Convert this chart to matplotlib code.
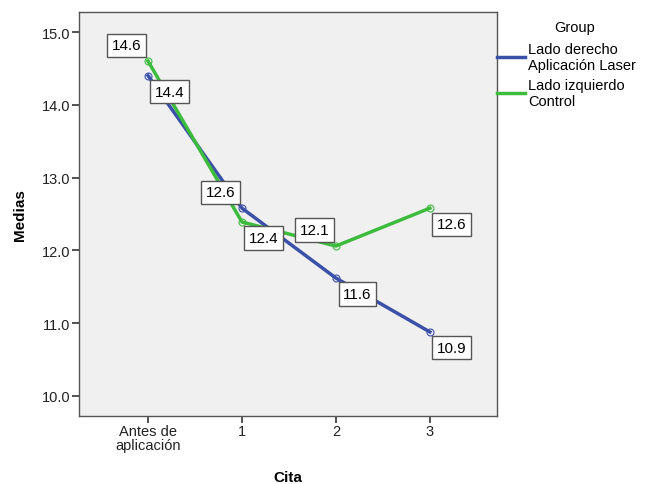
import matplotlib
matplotlib.use("Agg")
import matplotlib.pyplot as plt
from matplotlib.lines import Line2D

plt.rcParams['font.family'] = ['Liberation Sans', 'DejaVu Sans']

# data
categories = ["Antes de\naplicación", "1", "2", "3"]
laser = [14.40, 12.58, 11.62, 10.88]
control = [14.60, 12.39, 12.06, 12.58]
laser_labels = ["14.4", "12.6", "11.6", "10.9"]
control_labels = ["14.6", "12.4", "12.1", "12.6"]
# label placement: -1 = up-left of point, +1 = down-right
laser_side = [1, -1, 1, 1]
control_side = [-1, 1, -1, 1]
group_names = ["Lado derecho\nAplicación Laser", "Lado izquierdo\nControl"]

blue = "#3b50a8"
green = "#3dbb3d"
W, H = 654, 485

fig = plt.figure(figsize=(W / 100, H / 100), dpi=100)
ax = fig.add_axes([79 / W, 1 - 417 / H, (497 - 79) / W, (417 - 13) / H])
ax.set_facecolor("#f0f0f0")

x = list(range(len(categories)))
ax.plot(x, laser, color=blue, lw=2.5, marker="o", ms=5, mfc="none", mew=0.8, zorder=3)
ax.plot(x, control, color=green, lw=2.5, marker="o", ms=5, mfc="none", mew=0.8, zorder=3)

box = dict(boxstyle="square,pad=0.3", fc="white", ec="#555555", lw=1)
for vals, labs, sides in [(laser, laser_labels, laser_side),
                          (control, control_labels, control_side)]:
    for xi, v, t, s in zip(x, vals, labs, sides):
        ax.annotate(t, (xi, v), xytext=(s * 15.5, -s * 11.5), textcoords="offset points",
                    ha="center", va="center", fontsize=11, bbox=box, zorder=5)

ax.set_xlim(-0.735, 3.715)
ax.set_ylim(9.725, 15.275)
ax.set_xticks(x)
ax.set_xticklabels(categories, fontsize=10.5, linespacing=0.95, color="#222222")
ax.set_yticks([10, 11, 12, 13, 14, 15])
ax.set_yticklabels([f"{v:.1f}" for v in [10, 11, 12, 13, 14, 15]], fontsize=10.5,
                   color="#222222")
ax.tick_params(direction="out", length=5, width=1.2, color="#333333", pad=1)
for sp in ax.spines.values():
    sp.set_color("#555555")
    sp.set_linewidth(1)

fig.text(288 / W, 1 - 478 / H, "Cita", fontsize=11, fontweight="bold",
         ha="center", va="center")
fig.text(20 / W, 1 - 215 / H, "Medias", fontsize=11, fontweight="bold",
         ha="center", va="center", rotation=90)

# legend outside the plot, drawn by hand
fig.text(575 / W, 1 - 28 / H, "Group", fontsize=10.5, ha="center", va="center")
for name, col, yc in zip(group_names, [blue, green], [58, 94]):
    fig.add_artist(Line2D([497 / W, 525 / W], [1 - yc / H, 1 - yc / H],
                          color=col, lw=2.5))
    fig.text(528 / W, 1 - yc / H, name, fontsize=10.5, ha="left", va="center",
             linespacing=1.15)

fig.savefig("out.png", dpi=100)
